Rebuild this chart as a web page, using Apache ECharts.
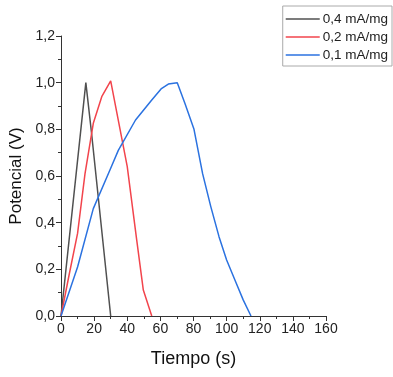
<!DOCTYPE html>
<html><head><meta charset="utf-8">
<script src="https://cdn.jsdelivr.net/npm/echarts@6/dist/echarts.min.js"></script>
<style>html,body{margin:0;padding:0;background:#fff}#c{width:393px;height:377px}</style>
</head><body><div id="c"></div>
<script>
const seriesNames = ['0,4 mA/mg', '0,2 mA/mg', '0,1 mA/mg'];
const black04 = [[0,0],[15,1.0],[18.5,0.78],[30,0]];
const red02 = [[0,0],[5,0.18],[10,0.354],[14.5,0.61],[19.5,0.826],[24.6,0.94],[30,1.008],[40,0.64],[45.7,0.326],[49.7,0.111],[54.8,0]];
const blue01 = [[0,0],[10,0.21],[19.5,0.46],[30,0.633],[34.6,0.71],[45,0.84],[54.8,0.926],[60.4,0.973],[64.8,0.994],[70.2,1.0],[74.9,0.91],[80.3,0.80],[85.5,0.61],[90.4,0.47],[95.4,0.34],[100,0.24],[105,0.154],[110,0.069],[114.7,0]];
const colors = ['#505050', '#f2444c', '#2b72e0'];
const chart = echarts.init(document.getElementById('c'));
const axisCommon = {
  axisLine: {show: true, lineStyle: {color: '#333', width: 1}},
  axisTick: {show: true, inside: false, length: 5, lineStyle: {color: '#333'}},
  minorTick: {show: true, splitNumber: 2, length: 3, lineStyle: {color: '#333'}},
  splitLine: {show: false},
  axisLabel: {color: '#222', fontSize: 14, fontFamily: 'Liberation Sans, Arial'},
  nameTextStyle: {color: '#111', fontSize: 18, fontFamily: 'Liberation Sans, Arial'}
};
chart.setOption({
  animation: false,
  grid: {left: 61, right: 67, top: 36, bottom: 61, containLabel: false, outerBoundsMode: 'none'},
  legend: {
    data: seriesNames, orient: 'vertical', right: 1, top: 6,
    icon: 'rect', itemWidth: 34, itemHeight: 1.5, itemGap: 4,
    borderColor: '#aaa', borderWidth: 1, padding: [6, 4, 4, 3], borderRadius: 0,
    textStyle: {color: '#222', fontSize: 13.5, fontFamily: 'Liberation Sans, Arial', padding: [0,0,0,-2]}
  },
  xAxis: Object.assign({}, axisCommon, {
    type: 'value', min: 0, max: 160, interval: 20,
    name: 'Tiempo (s)', nameLocation: 'middle', nameGap: 34,
    axisLabel: Object.assign({}, axisCommon.axisLabel, {margin: 6})
  }),
  yAxis: Object.assign({}, axisCommon, {
    type: 'value', min: 0, max: 1.2, interval: 0.2,
    name: 'Potencial (V)', nameLocation: 'middle', nameGap: 33,
    nameTextStyle: Object.assign({}, axisCommon.nameTextStyle, {fontSize: 17}),
    axisLabel: Object.assign({}, axisCommon.axisLabel, {margin: 6, formatter: v => v.toFixed(1).replace('.', ',')})
  }),
  series: [
    {name: seriesNames[0], type: 'line', data: black04, symbol: 'none', lineStyle: {width: 1.5, color: colors[0]}, itemStyle: {color: colors[0]}},
    {name: seriesNames[1], type: 'line', data: red02, symbol: 'none', lineStyle: {width: 1.5, color: colors[1]}, itemStyle: {color: colors[1]}},
    {name: seriesNames[2], type: 'line', data: blue01, symbol: 'none', lineStyle: {width: 1.5, color: colors[2]}, itemStyle: {color: colors[2]}}
  ]
});
</script></body></html>
